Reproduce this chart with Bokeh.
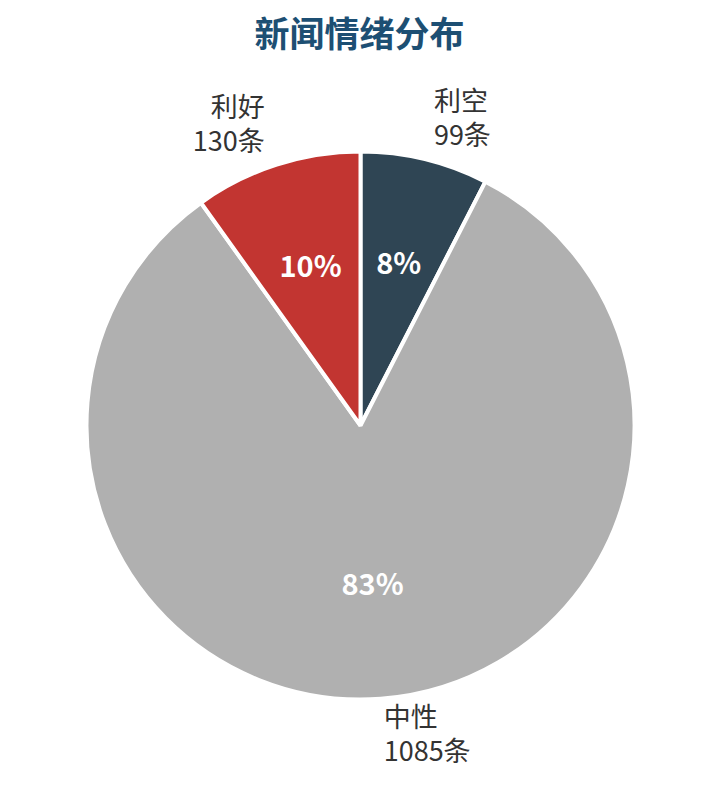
import math
from bokeh.plotting import figure
from bokeh.models import ColumnDataSource, Range1d
from bokeh.core.properties import value
from bokeh.embed import file_html
from bokeh.resources import INLINE

# ---- data ----
title_text = "新闻情绪分布"
categories = ["利空", "中性", "利好"]
counts = [99, 1085, 130]
colors = ["#2f4554", "#b0b0b0", "#c23531"]

# ---- layout (pixels) ----
W, H = 704, 773
cx, cy = 360, 348
R = 274
LR = 313
FONT = "Noto Sans CJK SC"

total = sum(counts)
starts, ends, mids = [], [], []
cum = 0
for c in counts:
    a0 = math.pi / 2 - 2 * math.pi * cum / total
    cum += c
    a1 = math.pi / 2 - 2 * math.pi * cum / total
    starts.append(a0)
    ends.append(a1)
    mids.append((a0 + a1) / 2)

pcts = [f"{round(c / total * 100)}%" for c in counts]
outer = [f"{n}\n{c}条" for n, c in zip(categories, counts)]

p = figure(width=W, height=H, output_backend="svg", toolbar_location=None,
           x_range=Range1d(0, W), y_range=Range1d(0, H), min_border=0,
           outline_line_color=None, background_fill_color="white",
           border_fill_color="white")
p.axis.visible = False
p.grid.visible = False

src = ColumnDataSource(dict(
    start=starts, end=ends, color=colors,
    px=[cx + 0.6 * 272 * math.cos(m) for m in mids],
    py=[cy + 0.6 * 272 * math.sin(m) for m in mids],
    pct=pcts,
    lx=[cx + LR * math.cos(m) for m in mids],
    ly=[cy + LR * math.sin(m) for m in mids],
    lab=outer,
    align=["left" if math.cos(m) >= 0 else "right" for m in mids],
))

p.wedge(x=cx, y=cy, radius=R, start_angle="start", end_angle="end",
        direction="clock", fill_color="color", line_color="white",
        line_width=4, source=src)

p.text(x="px", y="py", text="pct", source=src, text_color="white",
       text_font=value(FONT), text_font_style="bold", text_font_size="29px",
       text_align="center", text_baseline="middle", y_offset=-6)

p.text(x="lx", y="ly", text="lab", source=src, text_color="#333333",
       text_font=value(FONT), text_font_size="27px", text_align="align",
       text_baseline="middle", text_line_height=0.88, y_offset=-5)

p.text(x=[359], y=[742], text=[title_text], text_color="#1d4f73",
       text_font=value(FONT), text_font_style="bold", text_font_size="35px",
       text_align="center", text_baseline="middle")

open("out.html", "w").write(file_html(p, INLINE))
